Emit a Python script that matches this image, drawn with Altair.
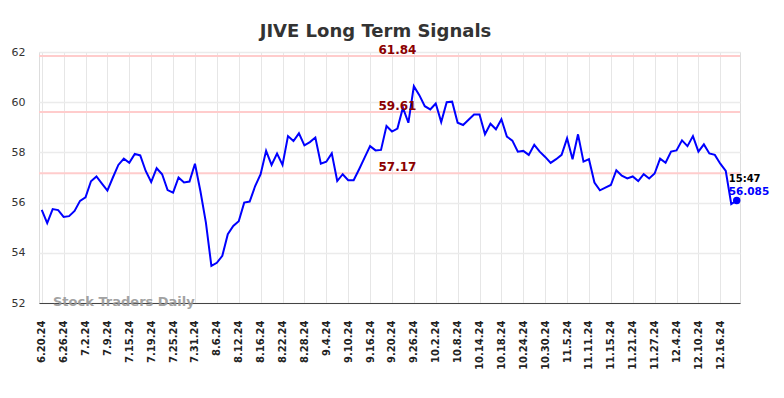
import altair as alt
import pandas as pd

# --- data ---
VALUES = [
    55.71, 55.18, 55.74, 55.70, 55.43, 55.46, 55.67, 56.07, 56.21, 56.85,
    57.04, 56.76, 56.48, 57.00, 57.50, 57.75, 57.59, 57.94, 57.88, 57.26,
    56.82, 57.37, 57.13, 56.50, 56.40, 57.00, 56.80, 56.84, 57.55, 56.45,
    55.20, 53.48, 53.60, 53.88, 54.74, 55.07, 55.26, 56.00, 56.04, 56.66,
    57.13, 58.06, 57.50, 57.95, 57.50, 58.65, 58.45, 58.76, 58.28, 58.41,
    58.59, 57.55, 57.63, 57.96, 56.86, 57.13, 56.89, 56.89, 57.33, 57.79,
    58.25, 58.08, 58.10, 59.05, 58.83, 58.95, 59.78, 59.18, 60.64, 60.28,
    59.84, 59.71, 59.95, 59.21, 60.00, 60.02, 59.18, 59.09, 59.30, 59.51,
    59.51, 58.72, 59.14, 58.92, 59.32, 58.63, 58.47, 58.03, 58.06, 57.90,
    58.30, 58.03, 57.82, 57.58, 57.73, 57.90, 58.56, 57.73, 58.72, 57.63,
    57.73, 56.80, 56.49, 56.60, 56.70, 57.29, 57.07, 56.96, 57.04, 56.86,
    57.13, 56.96, 57.16, 57.75, 57.59, 58.03, 58.08, 58.48, 58.25, 58.65,
    58.03, 58.32, 57.96, 57.90, 57.55, 57.26, 55.94, 56.085,
]
TICK_LABELS = [
    "6.20.24", "6.26.24", "7.2.24", "7.9.24", "7.15.24", "7.19.24", "7.25.24",
    "7.31.24", "8.6.24", "8.12.24", "8.16.24", "8.22.24", "8.28.24", "9.4.24",
    "9.10.24", "9.16.24", "9.20.24", "9.26.24", "10.2.24", "10.8.24",
    "10.14.24", "10.18.24", "10.24.24", "10.30.24", "11.5.24", "11.11.24",
    "11.15.24", "11.21.24", "11.27.24", "12.4.24", "12.10.24", "12.16.24",
]
LEVELS = [61.84, 59.61, 57.17]
LEVEL_LABELS = ["61.84", "59.61", "57.17"]
LAST_TIME = "15:47"
LAST_VALUE = "56.085"
TITLE = "JIVE Long Term Signals"
WATERMARK = "Stock Traders Daily"

STEP = 4
LABEL_IDX = 65  # position of level labels along the x index

df = pd.DataFrame({"idx": list(range(len(VALUES))), "value": VALUES})
levels_df = pd.DataFrame({"level": LEVELS, "label": LEVEL_LABELS, "idx": [LABEL_IDX] * 3})
last_df = df.tail(1).assign(t=LAST_TIME, v=LAST_VALUE)

label_array = "[" + ",".join("'" + s + "'" for s in TICK_LABELS) + "]"

x_scale = alt.Scale(domain=[-0.5, 127.6], nice=False, zero=False)
y_scale = alt.Scale(domain=[52, 62], nice=False, zero=False)

x_axis = alt.Axis(
    values=list(range(0, STEP * len(TICK_LABELS), STEP)),
    tickCount=len(TICK_LABELS) + 4,
    labelExpr=label_array + "[round(datum.value/4)]",
    labelAngle=-90,
    labelOverlap=False,
    labelFont="DejaVu Sans",
    labelFontSize=10,
    labelFontWeight="bold",
    labelColor="#222222",
    labelPadding=17,
    ticks=False,
    domain=True,
    domainColor="#444444",
    domainWidth=1,
    grid=True,
    gridColor="#e6e6e6",
    gridWidth=1,
    title=None,
)
y_axis = alt.Axis(
    values=[52, 54, 56, 58, 60, 62],
    labelFont="DejaVu Sans",
    labelFontSize=11,
    labelColor="#333333",
    labelPadding=14,
    ticks=False,
    domain=False,
    grid=True,
    gridColor="#ebebeb",
    gridWidth=1.5,
    title=None,
)

base = alt.Chart(df)

line = base.mark_line(color="#0000ff", strokeWidth=2).encode(
    x=alt.X("idx:Q", scale=x_scale, axis=x_axis),
    y=alt.Y("value:Q", scale=y_scale, axis=y_axis),
)

rules = alt.Chart(levels_df).mark_rule(color="#ffcccc", strokeWidth=2).encode(
    y=alt.Y("level:Q", scale=y_scale),
)

rule_text = alt.Chart(levels_df).mark_text(
    color="#8b0000", font="DejaVu Sans", fontSize=12, fontWeight="bold",
    align="center", baseline="bottom", dy=1,
).encode(
    x=alt.X("idx:Q", scale=x_scale),
    y=alt.Y("level:Q", scale=y_scale),
    text="label:N",
)

watermark = alt.Chart(df.head(1)).mark_text(
    text=WATERMARK, color="#999999", font="DejaVu Sans", fontSize=13,
    fontWeight="bold", align="left", baseline="middle", opacity=0.9,
).encode(x=alt.value(14), y=alt.value(250))

dot = alt.Chart(last_df).mark_circle(color="#0000ff", size=55, opacity=1).encode(
    x=alt.X("idx:Q", scale=x_scale),
    y=alt.Y("value:Q", scale=y_scale),
)

time_text = alt.Chart(last_df).mark_text(
    color="#000000", font="DejaVu Sans", fontSize=10, fontWeight="bold",
    align="left", baseline="middle", dx=-8, dy=-21,
).encode(x=alt.X("idx:Q", scale=x_scale), y=alt.Y("value:Q", scale=y_scale), text="t:N")

val_text = alt.Chart(last_df).mark_text(
    color="#0000ff", font="DejaVu Sans", fontSize=10.5, fontWeight="bold",
    align="left", baseline="middle", dx=-8, dy=-8,
).encode(x=alt.X("idx:Q", scale=x_scale), y=alt.Y("value:Q", scale=y_scale), text="v:N")

chart = alt.layer(rules, line, rule_text, watermark, dot, time_text, val_text).properties(
    width=701,
    height=251,
    title=alt.TitleParams(
        TITLE, font="DejaVu Sans", fontSize=18, fontWeight="bold",
        color="#333333", anchor="middle", offset=3, dx=-14,
    ),
    autosize=alt.AutoSizeParams(type="none"),
    padding={"left": 31, "top": 44, "right": 36, "bottom": 80},
).configure_view(stroke=None).configure(background="white")

chart.save("out.html", embed_options={"renderer": "svg", "actions": False})
